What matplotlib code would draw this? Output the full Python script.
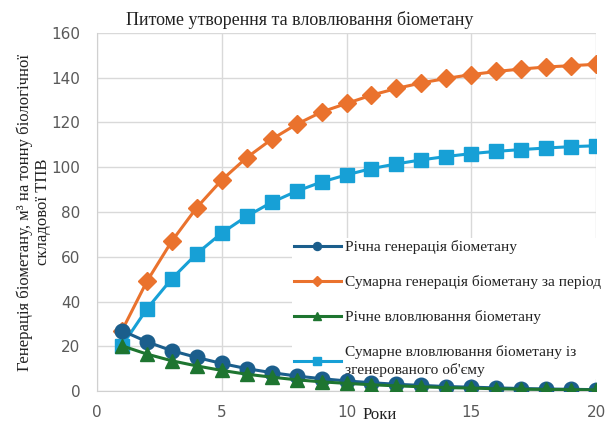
import matplotlib.pyplot as plt

years = list(range(1, 21))

# річні та сумарні обсяги, м3 на тонну
annual_gen = [27, 22, 18, 15, 12.3, 10, 8.2, 6.7, 5.5, 4.5,
              3.7, 3.0, 2.5, 2.0, 1.7, 1.4, 1.1, 0.9, 0.75, 0.6]
total_gen = [27, 49, 67, 82, 94.3, 104.3, 112.5, 119.2, 124.7, 128.5,
             132.2, 135.2, 137.7, 139.7, 141.4, 142.8, 143.9, 144.8, 145.4, 146]
annual_capture = [20.2, 16.5, 13.5, 11.2, 9.2, 7.5, 6.2, 5.0, 4.1, 3.4,
                  2.8, 2.3, 1.9, 1.5, 1.3, 1.0, 0.8, 0.7, 0.6, 0.5]
total_capture = [20.2, 36.7, 50.2, 61.4, 70.6, 78.1, 84.3, 89.3, 93.4, 96.6,
                 99.4, 101.5, 103.3, 104.8, 106.1, 107.1, 107.9, 108.6, 109.2, 109.6]

labels = ["Річна генерація біометану",
          "Сумарна генерація біометану за період",
          "Річне вловлювання біометану",
          "Сумарне вловлювання біометану із\nзгенерованого об'єму"]

serif = "Liberation Serif"
sans = "DejaVu Sans"

fig = plt.figure(figsize=(6.09, 4.24), dpi=100)
ax = fig.add_axes([97/609, 1 - 391/424, 499/609, 358/424])

ax.plot(years, annual_gen, color="#1B5E8C", lw=2.2, marker="o", ms=10.5, label=labels[0], zorder=4)
ax.plot(years, total_gen, color="#EA722D", lw=2.2, marker="D", ms=9.5, label=labels[1], zorder=3)
ax.plot(years, annual_capture, color="#1E7530", lw=2.2, marker="^", ms=10, label=labels[2], zorder=5)
ax.plot(years, total_capture, color="#17A0D6", lw=2.2, marker="s", ms=10, label=labels[3], zorder=3)

ax.set_xlim(0, 20)
ax.set_ylim(0, 160)
ax.set_xticks(range(0, 21, 5))
ax.set_yticks(range(0, 161, 20))
ax.grid(True, color="#D9D9D9", lw=1)
ax.set_axisbelow(True)
for s in ["top", "right"]:
    ax.spines[s].set_visible(False)
for s in ["left", "bottom"]:
    ax.spines[s].set_color("#D0D0D0")
ax.tick_params(length=0, labelsize=11, labelcolor="#595959")
ax.tick_params(axis="x", pad=10)
ax.tick_params(axis="y", pad=12)
for t in ax.get_xticklabels() + ax.get_yticklabels():
    t.set_family(sans)

ax.set_title("Питоме утворення та вловлювання біометану", family=serif,
             fontsize=13, color="#222222", x=0.407, pad=6)
ax.set_ylabel("Генерація біометану, м³ на тонну біологічної\nскладової ТПВ",
              family=serif, fontsize=12, color="#222222", linespacing=1.15)
ax.yaxis.set_label_coords(-0.092, 0.5)
ax.set_xlabel("Роки", family=serif, fontsize=12, color="#222222")
ax.xaxis.set_label_coords(0.567, -0.044)

# легенда під лініями, але над сіткою
leg = ax.legend(loc="upper left", bbox_to_anchor=(292/609, 1 - 238/424),
                bbox_transform=fig.transFigure, frameon=True, framealpha=1,
                edgecolor="none", facecolor="white", fancybox=False,
                prop={"family": serif, "size": 11.1}, handlelength=3.0,
                handletextpad=0.3, labelspacing=1.35, markerscale=0.55,
                borderpad=0.15, borderaxespad=0)
leg.set_zorder(2.5)
for t in leg.get_texts():
    t.set_color("#222222")
    t.set_linespacing(1.4)

fig.savefig("out.png", dpi=100)
